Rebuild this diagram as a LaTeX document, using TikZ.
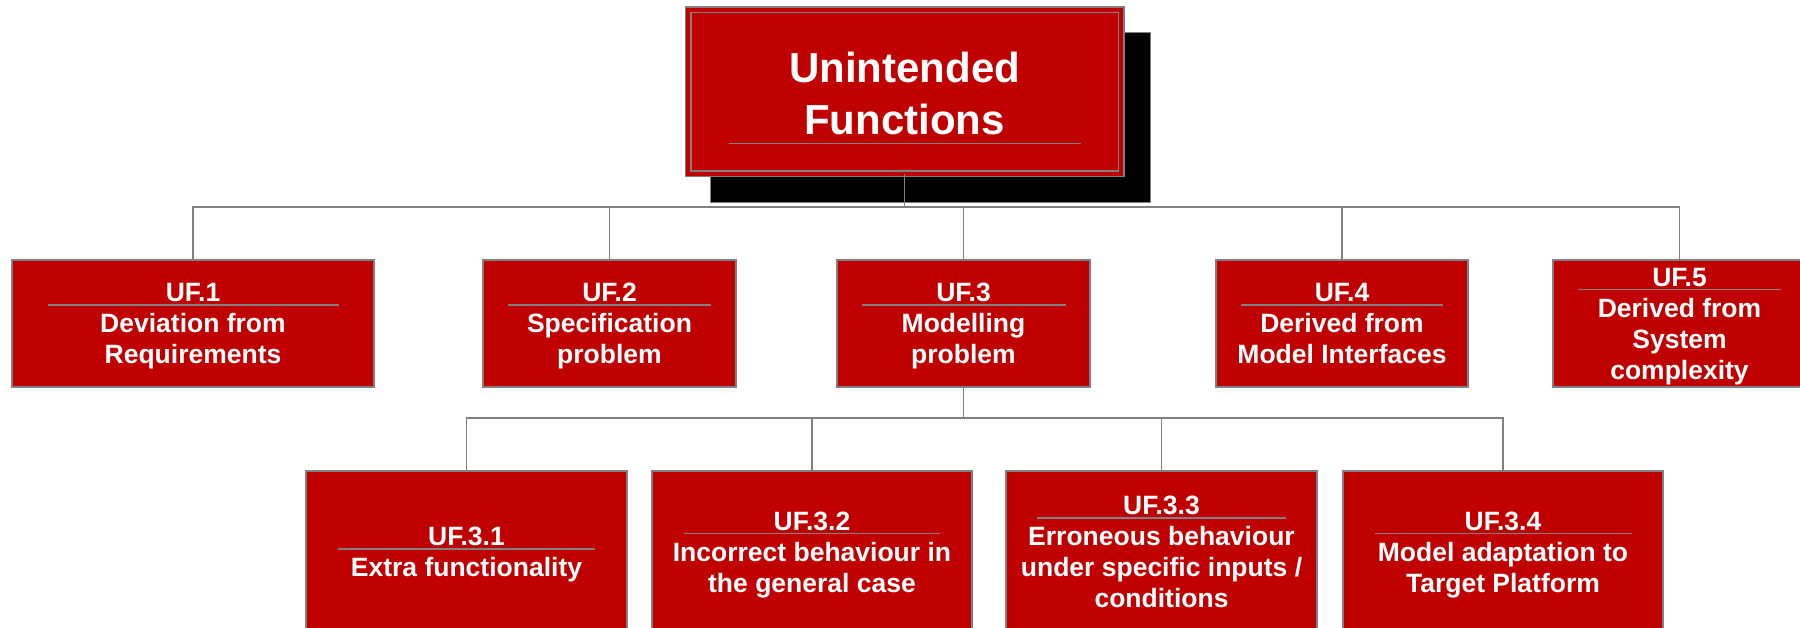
\documentclass[tikz,border=0pt]{standalone}
\usepackage{fontspec}
\setmainfont{Liberation Sans}
\definecolor{boxred}{HTML}{C00000}
\definecolor{edgegray}{HTML}{808080}

% line struts matching the font's ascent/descent
\newcommand\smallstrut{\rule[-5.6pt]{0pt}{29.6pt}}
\newcommand\bigstrut{\rule[-8.9pt]{0pt}{46.9pt}}
% heading line with a grey rule beneath it (rule width, heading text)
\newcommand\headline[2]{\smallstrut\makebox[0pt]{\textcolor{edgegray}{\rule[-4.2pt]{#1}{1.6pt}}}\makebox[0pt]{#2}}

\tikzset{
  x=1pt, y=-1pt,
  catbox/.style={rectangle, draw=edgegray, line width=1.5pt, fill=boxred,
    text=white, inner sep=0pt, align=center,
    font=\fontsize{26.5pt}{31pt}\selectfont\bfseries},
  conn/.style={draw=edgegray, line width=1.6pt},
}

\begin{document}
\begin{tikzpicture}
\useasboundingbox (0,0) rectangle (1800,627);
\clip (0,0) rectangle (1800,627);

% root box with its drop shadow
\node[rectangle, fill=black, draw=edgegray, line width=1pt, inner sep=0pt,
  minimum width=440pt, minimum height=170pt] (shadow) at (930,117) {};
\node[rectangle, draw=edgegray, double=boxred, double distance=4pt, line width=1.5pt,
  fill=boxred, inner sep=0pt, minimum width=433pt, minimum height=164pt] (top) at (904.5,91.5) {};
\node[text=white, align=center, inner sep=0pt,
  font=\fontsize{42pt}{52pt}\selectfont\bfseries] (toptitle) at (904.5,94.5)
  {\bigstrut Unintended\\\bigstrut\makebox[0pt]{\textcolor{edgegray}{\rule[-9.6pt]{352pt}{1.6pt}}}\makebox[0pt]{Functions}};

\coordinate (busA) at (0,207);
\coordinate (busB) at (0,418);

% first level
\node[catbox, minimum width=362pt, minimum height=127pt] (uf1) at (193,323.5)
  {\headline{291pt}{UF.1}\\\smallstrut Deviation from\\\smallstrut Requirements};
\node[catbox, minimum width=253pt, minimum height=127pt] (uf2) at (609.5,323.5)
  {\headline{203pt}{UF.2}\\\smallstrut Specification\\\smallstrut problem};
\node[catbox, minimum width=253pt, minimum height=127pt] (uf3) at (963.5,323.5)
  {\headline{204pt}{UF.3}\\\smallstrut Modelling\\\smallstrut problem};
\node[catbox, minimum width=252pt, minimum height=127pt] (uf4) at (1342,323.5)
  {\headline{202pt}{UF.4}\\\smallstrut Derived from\\\smallstrut Model Interfaces};
\node[catbox, minimum width=253pt, minimum height=127pt] (uf5) at (1679.5,323.5)
  {\headline{203pt}{UF.5}\\\smallstrut Derived from\\\smallstrut System\\\smallstrut complexity};

% second level under UF.3
\node[catbox, minimum width=321pt, minimum height=162pt] (uf31) at (466.5,552)
  {\headline{257pt}{UF.3.1}\\\smallstrut Extra functionality};
\node[catbox, minimum width=320pt, minimum height=162pt] (uf32) at (812,552)
  {\headline{256pt}{UF.3.2}\\\smallstrut Incorrect behaviour in\\\smallstrut the general case};
\node[catbox, minimum width=311pt, minimum height=162pt] (uf33) at (1161.5,552)
  {\headline{249pt}{UF.3.3}\\\smallstrut Erroneous behaviour\\\smallstrut under specific inputs /\\\smallstrut conditions};
\node[catbox, minimum width=320pt, minimum height=162pt] (uf34) at (1503,552)
  {\headline{257pt}{UF.3.4}\\\smallstrut Model adaptation to\\\smallstrut Target Platform};

% connectors: root to first level, UF.3 to its sub-items
\foreach \c in {uf1,uf2,uf3,uf4,uf5}
  \draw[conn] (top.south) -- (top.south |- busA) -| (\c.north);
\foreach \c in {uf31,uf32,uf33,uf34}
  \draw[conn] (uf3.south) -- (uf3.south |- busB) -| (\c.north);
\end{tikzpicture}
\end{document}
